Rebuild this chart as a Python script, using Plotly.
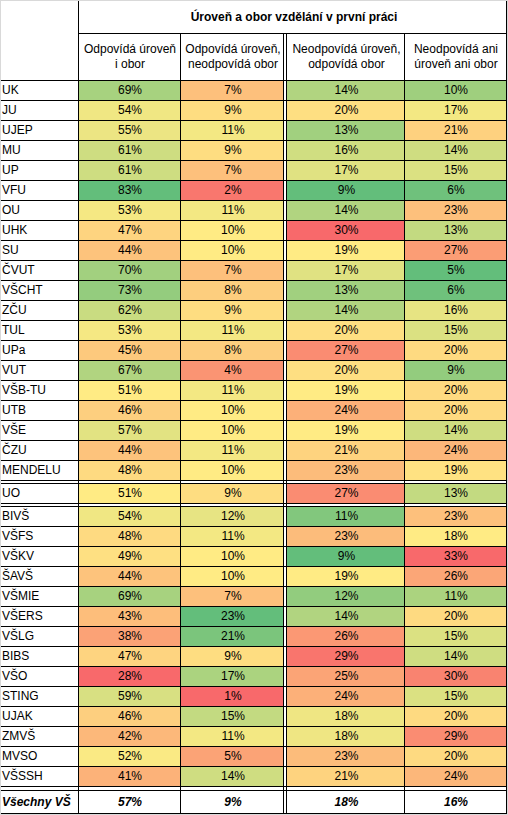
import plotly.graph_objects as go
import numpy as np

# ---------------- data ----------------
schools = ["UK", "JU", "UJEP", "MU", "UP", "VFU", "OU", "UHK", "SU", "ČVUT",
           "VŠCHT", "ZČU", "TUL", "UPa", "VUT", "VŠB-TU", "UTB", "VŠE", "ČZU", "MENDELU",
           "UO",
           "BIVŠ", "VŠFS", "VŠKV", "ŠAVŠ", "VŠMIE", "VŠERS", "VŠLG", "BIBS", "VŠO",
           "STING", "UJAK", "ZMVŠ", "MVSO", "VŠSSH"]
odpovida_oboje = [69, 54, 55, 61, 61, 83, 53, 47, 44, 70, 73, 62, 53, 45, 67, 51, 46, 57, 44, 48,
                  51,
                  54, 48, 49, 44, 69, 43, 38, 47, 28, 59, 46, 42, 52, 41]
uroven_ne_obor = [7, 9, 11, 9, 7, 2, 11, 10, 10, 7, 8, 9, 11, 8, 4, 11, 10, 10, 11, 10,
                  9,
                  12, 11, 10, 10, 7, 23, 21, 9, 17, 1, 15, 11, 5, 14]
obor_ne_uroven = [14, 20, 13, 16, 17, 9, 14, 30, 19, 17, 13, 14, 20, 27, 20, 19, 24, 19, 21, 23,
                  27,
                  11, 23, 9, 19, 12, 14, 26, 29, 25, 24, 18, 18, 23, 21]
neodpovida_nic = [10, 17, 21, 14, 15, 6, 23, 13, 27, 5, 6, 16, 15, 20, 9, 20, 20, 14, 24, 19,
                  13,
                  23, 18, 33, 26, 11, 20, 15, 14, 30, 15, 20, 29, 20, 24]
total_label = "Všechny VŠ"
totals = [57, 9, 18, 16]
title = "Úroveň a obor vzdělání v první práci"
headers = ["Odpovídá úroveň<br>i obor", "Odpovídá úroveň,<br>neodpovídá obor",
           "Neodpovídá úroveň,<br>odpovídá obor", "Neodpovídá ani<br>úroveň ani obor"]
higher_is_better = [True, True, False, False]
group_ends = [19, 20]  # indices after which a double line separates groups

columns = [odpovida_oboje, uroven_ne_obor, obor_ne_uroven, neodpovida_nic]

# ---------------- layout geometry ----------------
W, H = 508, 815
col_left = [78, 180, 287, 404]
col_right = [180, 284, 404, 506]
HEAD1, HEAD2 = 33, 80
ROW_H = 20
GAP = 3

RED = np.array([248, 105, 107])
YEL = np.array([255, 235, 132])
GRN = np.array([99, 190, 123])


def scale_color(v, vals, hib):
    lo, mid, hi = min(vals), float(np.percentile(vals, 50)), max(vals)
    c_lo, c_hi = (RED, GRN) if hib else (GRN, RED)
    if v <= mid:
        t = 0 if mid == lo else (v - lo) / (mid - lo)
        c = c_lo + (YEL - c_lo) * t
    else:
        t = (v - mid) / (hi - mid)
        c = YEL + (c_hi - YEL) * t
    c = np.round(c).astype(int)
    return f"rgb({c[0]},{c[1]},{c[2]})"


# row positions
row_top = []
y = HEAD2
for i in range(len(schools)):
    row_top.append(y)
    y += ROW_H
    if i in group_ends:
        y += GAP
last_bottom = y
tot_top = last_bottom + 4
tot_bottom = tot_top + 23

shapes = []
# cell fills
for j, col in enumerate(columns):
    for i, v in enumerate(col):
        shapes.append(dict(type="rect", xref="x", yref="y",
                           x0=col_left[j], x1=col_right[j],
                           y0=row_top[i], y1=row_top[i] + ROW_H,
                           fillcolor=scale_color(v, col, higher_is_better[j]),
                           line=dict(width=0), layer="below"))

BL = dict(color="black", width=1)


def hline(yv, x0, x1, color=BL):
    shapes.append(dict(type="line", xref="x", yref="y", x0=x0, x1=x1,
                       y0=yv + 0.5, y1=yv + 0.5, line=color))


def vline(xv, y0, y1, color=BL):
    shapes.append(dict(type="line", xref="x", yref="y", x0=xv + 0.5, x1=xv + 0.5,
                       y0=y0, y1=y1, line=color))


# horizontal lines
hline(HEAD1, 78, 507)
hline(HEAD2, 0, 507)
for i in range(len(schools)):
    hline(row_top[i] + ROW_H, 0, 507)
    if i in group_ends:
        hline(row_top[i] + ROW_H + GAP, 0, 507)
hline(tot_top, 0, 507)
hline(tot_bottom, 0, 507)

# vertical lines
vline(78, 0, tot_bottom + 1)
vline(180, HEAD1, tot_bottom + 1)
vline(283, HEAD1, tot_bottom + 1)
vline(286, HEAD1, tot_bottom + 1)
vline(404, HEAD1, tot_bottom + 1)
vline(506, 0, tot_bottom + 1)

# grey frame of the screenshot
GR = dict(color="#D9D9D9", width=1)
vline(0, 0, H, GR)
hline(0, 0, W, GR)
vline(507, 0, H, GR)
hline(814, 0, W, GR)

FONT = "Liberation Sans, Arial, sans-serif"
fig = go.Figure()

# value texts
xs, ys, ts = [], [], []
for j, col in enumerate(columns):
    for i, v in enumerate(col):
        xs.append((col_left[j] + col_right[j]) / 2 + 1)
        ys.append(row_top[i] + ROW_H / 2 + 1)
        ts.append(f"{v}%")
fig.add_trace(go.Scatter(x=xs, y=ys, text=ts, mode="text", textposition="middle center",
                         textfont=dict(family=FONT, size=12, color="black"),
                         hoverinfo="skip", showlegend=False))

# row labels
fig.add_trace(go.Scatter(x=[2] * len(schools), y=[t + ROW_H / 2 + 1 for t in row_top],
                         text=schools, mode="text", textposition="middle right",
                         textfont=dict(family=FONT, size=12, color="black"),
                         hoverinfo="skip", showlegend=False))

# totals row
fig.add_trace(go.Scatter(x=[2], y=[(tot_top + tot_bottom) / 2 + 1],
                         text=[f"<b><i>{total_label}</i></b>"], mode="text",
                         textposition="middle right",
                         textfont=dict(family=FONT, size=12, color="black"),
                         hoverinfo="skip", showlegend=False))
fig.add_trace(go.Scatter(x=[(col_left[j] + col_right[j]) / 2 + 1 for j in range(4)],
                         y=[(tot_top + tot_bottom) / 2 + 1] * 4,
                         text=[f"<b><i>{v}%</i></b>" for v in totals], mode="text",
                         textposition="middle center",
                         textfont=dict(family=FONT, size=12, color="black"),
                         hoverinfo="skip", showlegend=False))

# headers
fig.add_trace(go.Scatter(x=[(col_left[j] + col_right[j]) / 2 + 1 for j in range(4)],
                         y=[(HEAD1 + HEAD2) / 2 + 1] * 4,
                         text=headers, mode="text", textposition="middle center",
                         textfont=dict(family=FONT, size=12, color="black"),
                         hoverinfo="skip", showlegend=False))
fig.add_trace(go.Scatter(x=[(78 + 506) / 2 + 2], y=[HEAD1 / 2 + 1],
                         text=[f"<b>{title}</b>"], mode="text", textposition="middle center",
                         textfont=dict(family=FONT, size=12, color="black"),
                         hoverinfo="skip", showlegend=False))

fig.update_layout(
    width=W, height=H,
    margin=dict(l=0, r=0, t=0, b=0),
    paper_bgcolor="white", plot_bgcolor="white",
    xaxis=dict(range=[0, W], visible=False, fixedrange=True),
    yaxis=dict(range=[H, 0], visible=False, fixedrange=True),
    shapes=shapes,
    showlegend=False,
)
fig.write_html("out.html", config={"displayModeBar": False},
               post_script="document.body.style.margin='0';document.body.style.overflow='hidden';")
